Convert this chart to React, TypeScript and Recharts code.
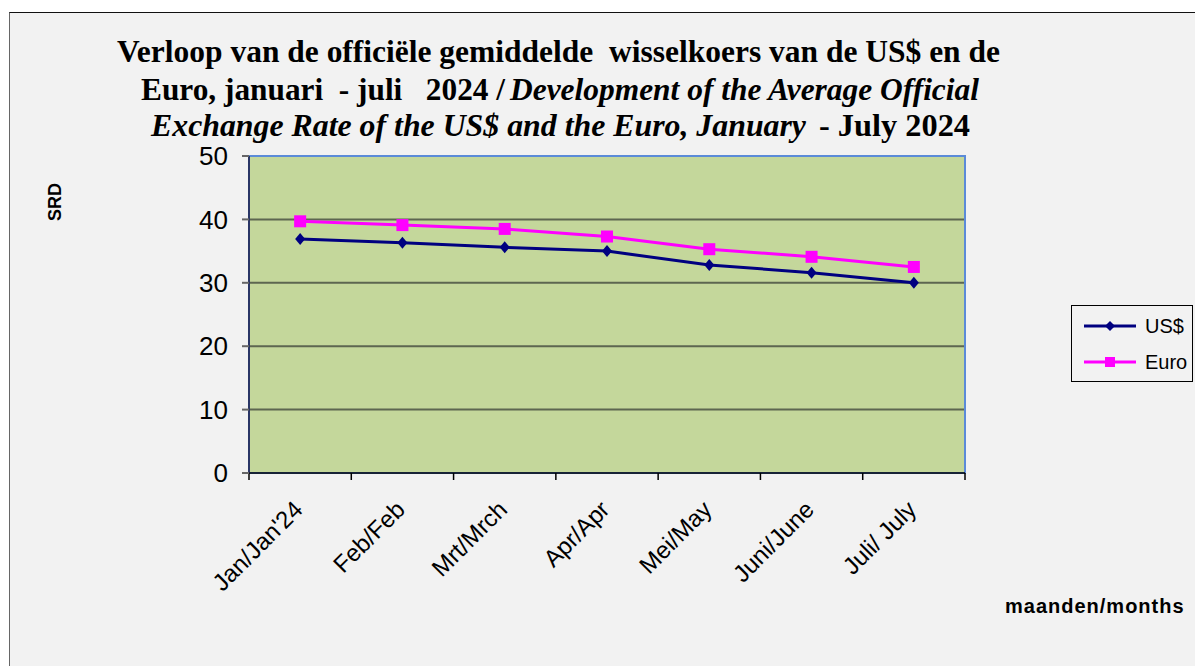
// Exchange rate SRD vs US$ and Euro, Jan - Jul 2024
import { LineChart, Line, XAxis, YAxis, CartesianGrid, ReferenceArea } from "recharts";

const months = ["Jan/Jan'24", "Feb/Feb", "Mrt/Mrch", "Apr/Apr", "Mei/May", "Juni/June", "Juli/ July"];
const usd = [36.9, 36.3, 35.6, 35.0, 32.8, 31.6, 30.0];
const euro = [39.7, 39.1, 38.5, 37.3, 35.3, 34.1, 32.5];
const yTicks = [0, 10, 20, 30, 40, 50];
const monthTicks = [0, 1, 2, 3, 4, 5, 6];
const boundaryTicks = [-0.5, 0.5, 1.5, 2.5, 3.5, 4.5, 5.5, 6.5];

const data = months.map((m, i) => ({ idx: i, month: m, usd: usd[i], euro: euro[i] }));

const SANS = "'Liberation Sans', Arial, sans-serif";
const SERIF = "'Liberation Serif', 'Times New Roman', serif";
const NAVY = "#000080";
const MAGENTA = "#ff00ff";
const BOUNDARY_H = 8;

function MonthTick(props: any) {
  const { x, y, payload } = props;
  const tx = x + 4;
  const ty = y + 38 - BOUNDARY_H;
  return (
    <text x={tx} y={ty} transform={`rotate(-45, ${tx}, ${ty})`} textAnchor="end"
      fontSize={24} fontFamily={SANS} fill="#000">
      {months[payload.value]}
    </text>
  );
}

function Diamond(props: any) {
  const { cx, cy } = props;
  if (cx == null || cy == null) return null;
  return <polygon points={`${cx},${cy - 6} ${cx + 5},${cy} ${cx},${cy + 6} ${cx - 5},${cy}`} fill={NAVY} />;
}

function Square(props: any) {
  const { cx, cy } = props;
  if (cx == null || cy == null) return null;
  return <rect x={cx - 6} y={cy - 6} width={12} height={12} fill={MAGENTA} />;
}

const titleText = { fontFamily: SERIF, fontSize: 31, fontWeight: "bold" as const, fill: "#000", whiteSpace: "pre" as const };

export default function App() {
  return (
    <div style={{ position: "fixed", left: 0, top: 0, width: 1195, height: 666, background: "#fff", overflow: "hidden" }}>
      {/* chart panel */}
      <div style={{ position: "absolute", left: 9, top: 12, width: 1200, height: 670, background: "#f2f2f2",
        borderTop: "1px solid #111", borderLeft: "1px solid #666" }} />

      <div style={{ position: "absolute", left: 0, top: 0 }}>
        <LineChart width={1195} height={666} data={data} margin={{ top: 156, right: 230, left: 189, bottom: 93 }}>
          <CartesianGrid xAxisId="b" vertical={false} fill="#c4d79b" stroke="#5d6650" strokeWidth={2} />
          <ReferenceArea xAxisId="b" x1={-0.5} x2={6.5} y1={0} y2={50} fill="none" stroke="#5b8bd8" strokeWidth={2} />
          <XAxis xAxisId="b" dataKey="idx" type="number" domain={[-0.5, 6.5]} ticks={boundaryTicks}
            height={BOUNDARY_H} tick={{ fill: "none", fontSize: 1 }} tickSize={7} tickLine={{ stroke: "#000", strokeWidth: 1.5 }}
            axisLine={{ stroke: "#000", strokeWidth: 1.5 }} interval={0} />
          <XAxis xAxisId="m" dataKey="idx" type="number" domain={[-0.5, 6.5]} ticks={monthTicks}
            height={100 - BOUNDARY_H} tickSize={0} tickMargin={0} tickLine={false} axisLine={false} tick={<MonthTick />} interval={0} />
          <YAxis domain={[0, 50]} ticks={yTicks} width={60} tickSize={7} tickMargin={14}
            tickLine={{ stroke: "#666", strokeWidth: 2 }} axisLine={{ stroke: "#1a1a40", strokeWidth: 1.5 }}
            tick={{ fontSize: 26, fontFamily: SANS, fill: "#000" }} />
          <Line xAxisId="m" dataKey="usd" name="US$" stroke={NAVY} strokeWidth={3} dot={<Diamond />} isAnimationActive={false} />
          <Line xAxisId="m" dataKey="euro" name="Euro" stroke={MAGENTA} strokeWidth={3} dot={<Square />} isAnimationActive={false} />
        </LineChart>
      </div>

      {/* title */}
      <svg width={1195} height={150} style={{ position: "absolute", left: 0, top: 0, pointerEvents: "none" }}>
        <text x={117} y={62} textLength={883} lengthAdjust="spacingAndGlyphs" style={titleText}>
          {"Verloop van de officiële gemiddelde  wisselkoers van de US$ en de"}
        </text>
        <text x={141} y={100} textLength={364} lengthAdjust="spacingAndGlyphs" style={titleText}>
          {"Euro, januari  - juli   2024 /"}
        </text>
        <text x={510} y={100} textLength={469} lengthAdjust="spacingAndGlyphs" style={{ ...titleText, fontStyle: "italic" }}>
          {"Development of the Average Official"}
        </text>
        <text x={151} y={136} textLength={655} lengthAdjust="spacingAndGlyphs" style={{ ...titleText, fontStyle: "italic" }}>
          {"Exchange Rate of the US$ and the Euro, January"}
        </text>
        <text x={819} y={136} textLength={151} lengthAdjust="spacingAndGlyphs" style={titleText}>
          {"- July 2024"}
        </text>
      </svg>

      {/* axis titles */}
      <div style={{ position: "absolute", left: 55, top: 202, transform: "translate(-50%, -50%) rotate(-90deg)",
        fontFamily: SANS, fontWeight: "bold", fontSize: 18, whiteSpace: "nowrap" }}>SRD</div>
      <div style={{ position: "absolute", left: 1005, top: 594, fontFamily: SANS, fontWeight: "bold", fontSize: 20,
        letterSpacing: 1, whiteSpace: "nowrap", lineHeight: "24px" }}>maanden/months</div>

      {/* legend */}
      <div style={{ position: "absolute", left: 1071, top: 305, width: 122, height: 77, border: "1px solid #000",
        boxSizing: "border-box", background: "#f2f2f2" }}>
        <svg width={120} height={75} style={{ position: "absolute", left: 0, top: 0 }}>
          <line x1={12} x2={64} y1={20} y2={20} stroke={NAVY} strokeWidth={3} />
          <polygon points="38,15 43,20 38,25 33,20" fill={NAVY} />
          <text x={73} y={27} fontFamily={SANS} fontSize={20} fill="#000">US$</text>
          <line x1={12} x2={64} y1={56} y2={56} stroke={MAGENTA} strokeWidth={3} />
          <rect x={33} y={51} width={10} height={10} fill={MAGENTA} />
          <text x={73} y={63} fontFamily={SANS} fontSize={20} fill="#000">Euro</text>
        </svg>
      </div>
    </div>
  );
}
